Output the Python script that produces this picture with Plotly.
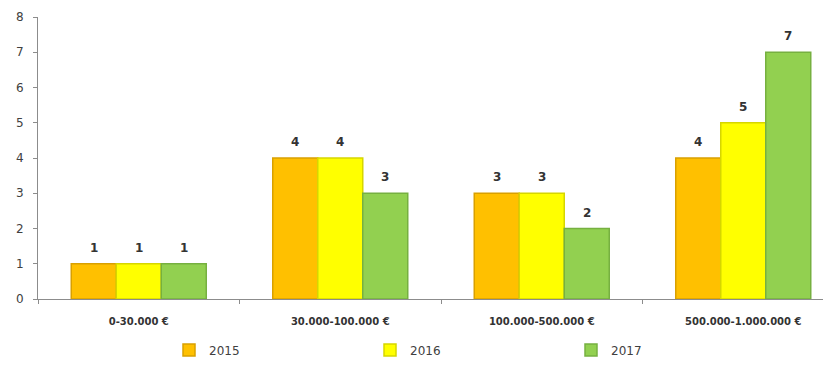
import plotly.graph_objects as go

categories = ["0-30.000 €", "30.000-100.000 €", "100.000-500.000 €", "500.000-1.000.000 €"]
years = ["2015", "2016", "2017"]
values_2015 = [1, 4, 3, 4]
values_2016 = [1, 4, 3, 5]
values_2017 = [1, 3, 2, 7]
y_ticks = [0, 1, 2, 3, 4, 5, 6, 7, 8]

series = [values_2015, values_2016, values_2017]
fills = ["#FFC000", "#FFFF00", "#92D050"]
edges = ["#D9A000", "#D6D600", "#76B040"]

W, H = 831, 375
# page body has an 8px margin, so offsets are relative to the figure
left, top, bottom = 30, 9, 84
cat_px = 201.5
xr_max = -0.5 + (W - left) / cat_px
bargap = 0.33
bar_w = (1 - bargap) / len(series)

fig = go.Figure()
for i, (name, vals, fc, ec) in enumerate(zip(years, series, fills, edges)):
    fig.add_trace(go.Bar(
        name=name, x=categories, y=vals,
        marker=dict(color=fc, line=dict(color=ec, width=1.5)),
    ))
    off = (i - (len(series) - 1) / 2) * bar_w
    for j, v in enumerate(vals):
        fig.add_annotation(
            x=j + off, y=v, xref="x", yref="y", text=f"<b>{v}</b>",
            showarrow=False, yanchor="middle", yshift=16,
            font=dict(family="DejaVu Sans", size=12, color="#333333"),
        )

fig.update_layout(
    width=W, height=H,
    margin=dict(l=left, r=0, t=top, b=bottom, autoexpand=False),
    paper_bgcolor="white", plot_bgcolor="white",
    barmode="group", bargap=bargap, bargroupgap=0,
    font=dict(family="DejaVu Sans", color="#404040"),
    showlegend=True,
    legend=dict(orientation="h", xref="container", yref="container",
                x=161 / W, xanchor="left", y=1 - 342 / H, yanchor="middle",
                entrywidth=156, entrywidthmode="pixels", itemwidth=30,
                font=dict(size=12, color="#404040"), traceorder="normal",
                bgcolor="rgba(0,0,0,0)"),
)
fig.update_xaxes(
    range=[-0.5, xr_max], showline=True, linecolor="#8C8C8C", linewidth=1,
    ticks="outside", tickson="boundaries", ticklen=4, tickcolor="#8C8C8C",
    tickfont=dict(size=10, color="#333333", weight="bold"), showgrid=False,
    ticklabelstandoff=13,
)
fig.update_yaxes(
    range=[0, 8], tickvals=y_ticks, showline=True, linecolor="#8C8C8C", linewidth=1,
    ticks="outside", ticklen=4, tickcolor="#8C8C8C", showgrid=False, zeroline=False,
    tickfont=dict(size=12, color="#404040"), ticklabelstandoff=7,
)
fig.write_html("out.html")
